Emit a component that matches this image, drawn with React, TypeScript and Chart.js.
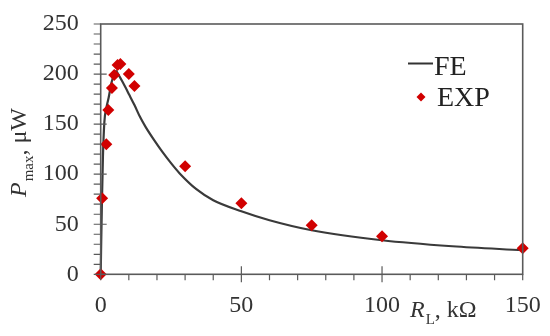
import React, { useEffect, useRef } from "react";
import { Chart, registerables } from "chart.js";

Chart.register(...registerables);

const feR = [0, 0.2, 0.45, 0.8, 1.3, 2, 2.8, 3.8, 4.8, 5.5, 6.2, 7.8, 10.2, 12, 14, 16, 19, 22, 25, 28, 34, 40, 50, 60, 75, 100, 125, 150];
const feP = [0, 35, 74, 118, 152, 166, 176, 191, 200, 203, 200, 192, 179, 169, 157, 147, 134, 122, 111, 101, 85, 74, 63, 54, 44, 34, 28, 24];

const expR = [0, 0.5, 2, 2.7, 4, 4.8, 6, 7, 10, 12, 30, 50, 75, 100, 150];
const expP = [0, 76, 130, 164, 186, 199, 209, 210, 200, 188, 108, 71, 49, 38, 26];

const xTicks = [0, 50, 100, 150];
const yTicks = [0, 50, 100, 150, 200, 250];

const SERIF = '"Liberation Serif", "Times New Roman", serif';
const AXIS = "#5a5a5a";
const RED = "#d10000";

const decorPlugin = {
  id: "decor",
  afterDraw(chart: any) {
    const { ctx, chartArea } = chart;
    const xs = chart.scales.x;
    const ys = chart.scales.y;
    const { left, right, top, bottom } = chartArea;
    ctx.save();
    ctx.strokeStyle = AXIS;
    ctx.lineWidth = 1.6;
    ctx.strokeRect(left, top, right - left, bottom - top);
    ctx.lineWidth = 1.2;
    ctx.beginPath();
    for (let v = 0; v <= 150; v += 10) {
      const x = xs.getPixelForValue(v);
      const major = v % 50 === 0 && v > 0 && v < 150;
      ctx.moveTo(x, major ? bottom - 8 : bottom);
      ctx.lineTo(x, bottom + (major ? 8 : 6));
    }
    for (let v = 0; v <= 250; v += 10) {
      const y = ys.getPixelForValue(v);
      const major = v % 50 === 0 && v > 0 && v < 250;
      ctx.moveTo(left - 7, y);
      ctx.lineTo(major ? left + 6 : left, y);
    }
    ctx.stroke();

    // x title
    ctx.fillStyle = "#333";
    ctx.textBaseline = "alphabetic";
    ctx.textAlign = "left";
    let xp = 410;
    ctx.font = `italic 24px ${SERIF}`;
    ctx.fillText("R", xp, 317);
    xp += ctx.measureText("R").width + 1;
    ctx.font = `15px ${SERIF}`;
    ctx.fillText("L", xp, 324);
    xp += ctx.measureText("L").width;
    ctx.font = `24px ${SERIF}`;
    ctx.fillText(", k\u03A9", xp, 317);

    // y title
    ctx.save();
    ctx.translate(26, 197);
    ctx.rotate(-Math.PI / 2);
    let yp = 0;
    ctx.font = `italic 24px ${SERIF}`;
    ctx.fillText("P", yp, 0);
    yp += ctx.measureText("P").width + 1;
    ctx.font = `15px ${SERIF}`;
    ctx.fillText("max", yp, 7);
    yp += ctx.measureText("max").width;
    ctx.font = `24px ${SERIF}`;
    ctx.fillText(", \u03BCW", yp, 0);
    ctx.restore();

    // legend
    ctx.strokeStyle = "#333";
    ctx.lineWidth = 2;
    ctx.beginPath();
    ctx.moveTo(408, 63.5);
    ctx.lineTo(433, 63.5);
    ctx.stroke();
    ctx.font = `28px ${SERIF}`;
    ctx.fillStyle = "#222";
    ctx.fillText("FE", 434, 75);
    ctx.fillText("EXP", 437, 106);
    ctx.fillStyle = RED;
    ctx.beginPath();
    ctx.moveTo(421, 92.5);
    ctx.lineTo(425.5, 97);
    ctx.lineTo(421, 101.5);
    ctx.lineTo(416.5, 97);
    ctx.closePath();
    ctx.fill();
    ctx.restore();
  },
};

export default function App() {
  const ref = useRef<HTMLCanvasElement>(null);
  useEffect(() => {
    const chart = new Chart(ref.current!, {
      type: "scatter",
      data: {
        datasets: [
          {
            label: "EXP",
            data: expR.map((r, i) => ({ x: r, y: expP[i] })),
            showLine: false,
            pointStyle: "rectRot",
            pointRadius: 6,
            backgroundColor: RED,
            borderColor: RED,
            borderWidth: 0,
            clip: false,
          } as any,
          {
            label: "FE",
            data: feR.map((r, i) => ({ x: r, y: feP[i] })),
            showLine: true,
            pointRadius: 0,
            borderColor: "#3a3a3a",
            borderWidth: 2.2,
            tension: 0.35,
            cubicInterpolationMode: "monotone",
            clip: false,
          } as any,
        ],
      },
      options: {
        animation: false,
        responsive: false,
        devicePixelRatio: 1,
        layout: { padding: { top: 24, right: 27.3, left: 0, bottom: 0 } },
        plugins: { legend: { display: false }, tooltip: { enabled: false } },
        scales: {
          x: {
            type: "linear",
            min: 0,
            max: 150,
            afterFit(s: any) {
              s.height = 61.7;
              s.paddingLeft = 0;
              s.paddingRight = 0;
              s.paddingTop = 0;
              s.paddingBottom = 0;
            },
            afterBuildTicks(s: any) {
              s.ticks = xTicks.map((v) => ({ value: v }));
            },
            grid: { display: false, drawTicks: false },
            border: { display: false },
            ticks: {
              padding: 17,
              color: "#333",
              font: { family: SERIF, size: 24 },
              maxRotation: 0,
            },
          },
          y: {
            type: "linear",
            min: 0,
            max: 250,
            afterFit(s: any) {
              s.width = 100.7;
              s.paddingLeft = 0;
              s.paddingRight = 0;
              s.paddingTop = 0;
              s.paddingBottom = 0;
            },
            afterBuildTicks(s: any) {
              s.ticks = yTicks.map((v) => ({ value: v }));
            },
            grid: { display: false, drawTicks: false },
            border: { display: false },
            ticks: {
              padding: 22,
              color: "#333",
              font: { family: SERIF, size: 24 },
            },
          },
        },
      },
      plugins: [decorPlugin],
    });
    return () => chart.destroy();
  }, []);
  return (
    <div style={{ position: "fixed", left: 0, top: 0, width: 550, height: 336, background: "#fff" }}>
      <canvas ref={ref} width={550} height={336} style={{ width: 550, height: 336 }} />
    </div>
  );
}
